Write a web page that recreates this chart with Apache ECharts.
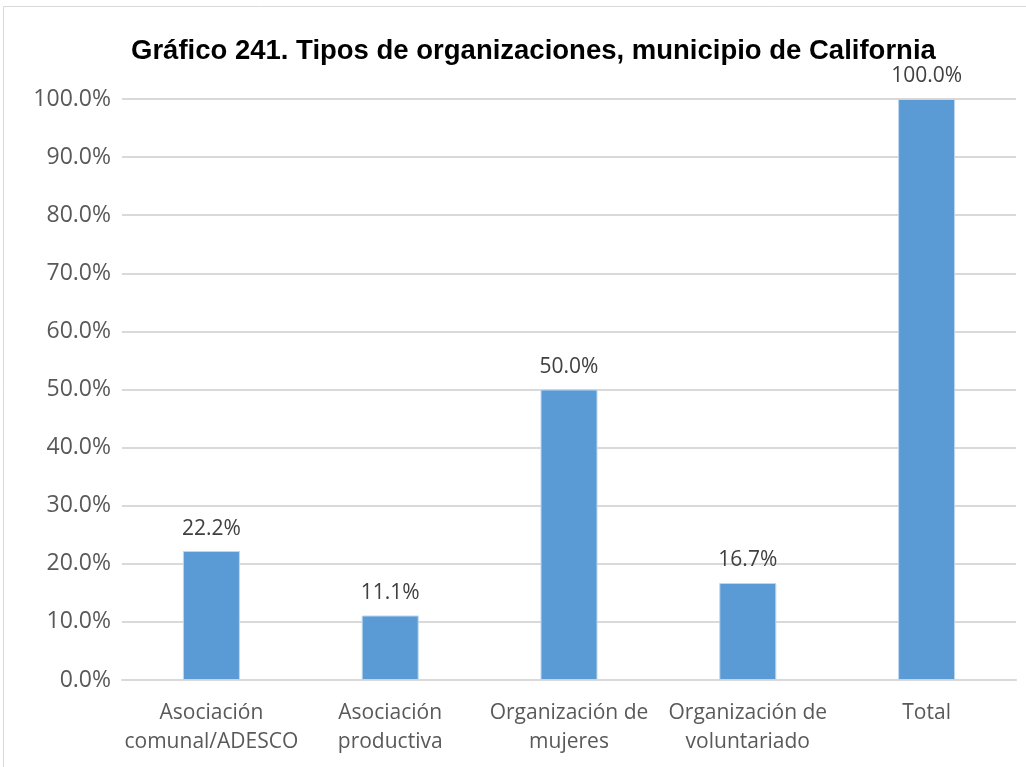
<!DOCTYPE html>
<html>
<head>
<meta charset="utf-8">
<script src="https://cdn.jsdelivr.net/npm/echarts@6/dist/echarts.min.js"></script>
<style>
  html, body { margin: 0; padding: 0; background: #fff; }
  #main { width: 1026px; height: 767px; }
</style>
</head>
<body>
<div id="main"></div>
<script>
var categories = ['Asociación\ncomunal/ADESCO', 'Asociación\nproductiva', 'Organización de\nmujeres', 'Organización de\nvoluntariado', 'Total'];
var values = [22.2, 11.1, 50.0, 16.7, 100.0];

var myChart = echarts.init(document.getElementById('main'));
var option = {
    backgroundColor: '#fff',
    title: {
        text: 'Gráfico 241. Tipos de organizaciones, municipio de California',
        left: 126,
        top: 32,
        textStyle: {
            fontFamily: 'Liberation Sans',
            fontWeight: 'bold',
            fontSize: 27.5,
            color: '#000'
        }
    },
    graphic: [{
        type: 'rect',
        shape: { x: 3.5, y: 6.5, width: 1040, height: 800 },
        style: { fill: 'none', stroke: '#d9d9d9', lineWidth: 1 },
        silent: true
    }],
    grid: {
        left: 122,
        right: 10,
        top: 99,
        bottom: 87,
        containLabel: false
    },
    xAxis: {
        type: 'category',
        data: categories,
        axisLine: { lineStyle: { color: '#d9d9d9', width: 2 } },
        axisTick: { show: false },
        axisLabel: {
            color: '#595959',
            fontSize: 21,
            fontFamily: 'Open Sans',
            lineHeight: 29,
            margin: 19,
            interval: 0
        }
    },
    yAxis: {
        type: 'value',
        min: 0,
        max: 100,
        interval: 10,
        axisLine: { show: false },
        axisTick: { show: false },
        splitLine: { lineStyle: { color: '#d9d9d9', width: 2 } },
        axisLabel: {
            color: '#595959',
            fontSize: 23,
            fontFamily: 'Open Sans',
            margin: 11,
            formatter: function (v) { return v.toFixed(1) + '%'; }
        }
    },
    series: [{
        type: 'bar',
        data: values,
        barWidth: 57,
        itemStyle: { color: '#5b9bd5', borderColor: '#bdd7ee', borderWidth: 1 },
        label: {
            show: true,
            position: 'top',
            distance: 12,
            color: '#404040',
            fontSize: 21,
            fontFamily: 'Open Sans',
            formatter: function (p) { return p.value.toFixed(1) + '%'; }
        }
    }]
};
myChart.setOption(option);
</script>
</body>
</html>
